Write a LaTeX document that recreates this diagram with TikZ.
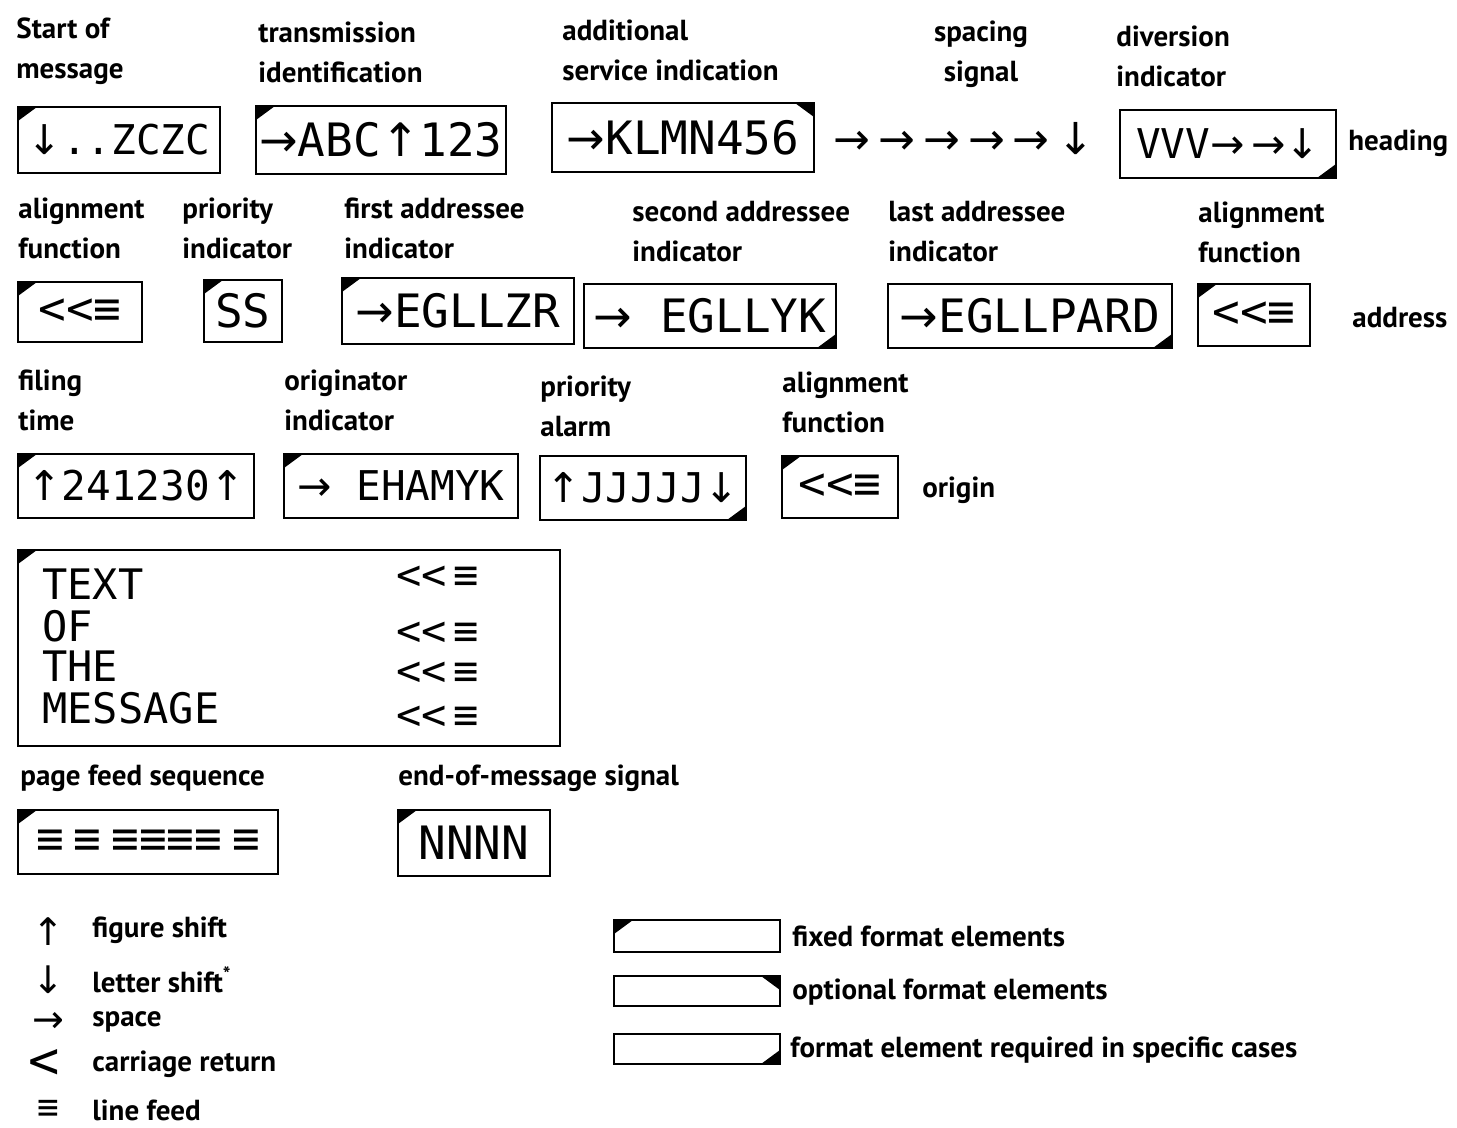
\documentclass[tikz,border=0pt]{standalone}
\usepackage{fontspec}
\setmainfont{PT Sans}
\newfontfamily\mono{DejaVu Sans Mono}
\newfontfamily\arrfont{DejaVu Sans}
\newcommand\RA{{\arrfont →}}
\newcommand\UA{{\arrfont ↑}}
\newcommand\DA{{\arrfont ↓}}
\begin{document}
\begin{tikzpicture}[x=0.5pt,y=-0.5pt,
  lab/.style={font=\fontsize{14.5}{20}\selectfont\bfseries, align=left, anchor=west, inner sep=0pt},
  elem/.style={draw, line width=1.4pt, rectangle, inner sep=0pt, font=\mono\fontsize{23}{24}\selectfont},
  small/.style={font=\mono\fontsize{20.5}{24}\selectfont},
  fixedbox/.style={elem, path picture={\fill (path picture bounding box.north west) -- ++(9.5pt,0pt) -- ++(-9.5pt,-7pt) -- cycle;}},
  optbox/.style={elem, path picture={\fill (path picture bounding box.north east) -- ++(-9.5pt,0pt) -- ++(9.5pt,-7pt) -- cycle;}},
  specbox/.style={elem, path picture={\fill (path picture bounding box.south east) -- ++(-9.5pt,0pt) -- ++(9.5pt,7pt) -- cycle;}},
  monotxt/.style={inner sep=0pt, font=\mono\fontsize{21}{22}\selectfont},
  sym/.style={inner sep=0pt, font=\arrfont\fontsize{19}{19}\selectfont}
]
\useasboundingbox[fill=white] (0,0) rectangle (1457,1128);

% ---------- heading ----------
\node[lab] (l1) at (16,51) {Start of\\message};
\node[lab] (l2) at (258,52) {transmission\\identification};
\node[lab] (l3) at (562,50) {additional\\service indication};
\node[lab, align=center, anchor=center] (l4) at (981,54) {spacing\\signal};
\node[lab] (l5) at (1116,56) {diversion\\indicator};

\node[fixedbox, small, minimum width=101pt, minimum height=33pt] (b1) at (119,140) {\DA..ZCZC};
\node[fixedbox, minimum width=125pt, minimum height=34pt] (b2) at (381,140) {\RA ABC\UA 123};
\node[optbox, minimum width=131pt, minimum height=34.5pt] (b3) at (683,137.5) {\RA KLMN456};
\node[inner sep=0pt, font=\arrfont\fontsize{22}{24}\selectfont] (sp) at (964,139) {→\hspace{4pt}→\hspace{4pt}→\hspace{4pt}→\hspace{4pt}→\hspace{4pt}↓};
\node[specbox, small, minimum width=108pt, minimum height=34pt] (b4) at (1228,144) {VVV\RA\,\RA\DA};
\node[lab] (hd) at (1348,143) {heading};

% ---------- address ----------
\node[lab] (m1) at (18,228) {alignment\\function};
\node[lab] (m2) at (182,228) {priority\\indicator};
\node[lab] (m3) at (344,228) {first addressee\\indicator};
\node[lab] (m4) at (632,232) {second addressee\\indicator};
\node[lab] (m5) at (888,232) {last addressee\\indicator};
\node[lab] (m6) at (1198,232) {alignment\\function};

\node[fixedbox, minimum width=62pt, minimum height=30pt] (a1) at (80,312) {<<≡};
\node[fixedbox, minimum width=39pt, minimum height=31pt] (a2) at (243,311) {SS};
\node[fixedbox, minimum width=116pt, minimum height=33pt] (a3) at (458,311) {\RA EGLLZR};
\node[specbox, minimum width=126pt, minimum height=32pt] (a4) at (710,316) {\RA\ EGLLYK};
\node[specbox, minimum width=142pt, minimum height=32pt] (a5) at (1030,316) {\RA EGLLPARD};
\node[fixedbox, minimum width=56pt, minimum height=31pt] (a6) at (1254,315) {<<≡};
\node[lab] (ad) at (1352,318) {address};

% ---------- origin ----------
\node[lab] (n1) at (18,400) {filing\\time};
\node[lab] (n2) at (284,400) {originator\\indicator};
\node[lab] (n3) at (540,406) {priority\\alarm};
\node[lab] (n4) at (782,402) {alignment\\function};

\node[fixedbox, small, minimum width=118pt, minimum height=32pt] (o1) at (136,486) {\UA 241230\UA};
\node[fixedbox, small, minimum width=117pt, minimum height=32pt] (o2) at (401,486) {\RA\ EHAMYK};
\node[specbox, small, minimum width=103pt, minimum height=32pt] (o3) at (643,488) {\UA JJJJJ\DA};
\node[fixedbox, minimum width=58pt, minimum height=31pt] (o4) at (840,487) {<<≡};
\node[lab] (or) at (922,490) {origin};

% ---------- text ----------
\node[fixedbox, minimum width=271pt, minimum height=98pt] (tx) at (289,648) {};
\node[monotxt, anchor=west] (t1) at (42,584) {TEXT};
\node[monotxt, anchor=west] (t2) at (42,626) {OF};
\node[monotxt, anchor=west] (t3) at (42,666) {THE};
\node[monotxt, anchor=west] (t4) at (42,708) {MESSAGE};
\node[monotxt, anchor=west] (r1) at (396,578) {<<\,≡};
\node[monotxt, anchor=west] (r2) at (396,634) {<<\,≡};
\node[monotxt, anchor=west] (r3) at (396,674) {<<\,≡};
\node[monotxt, anchor=west] (r4) at (396,718) {<<\,≡};

% ---------- end ----------
\node[lab] (q1) at (20,778) {page feed sequence};
\node[lab] (q2) at (398,778) {end-of-message signal};
\node[fixedbox, minimum width=130pt, minimum height=32pt] (p1) at (148,842) {≡\hspace{5pt}≡\hspace{5pt}≡≡≡≡\hspace{5pt}≡};
\node[fixedbox, minimum width=76pt, minimum height=33pt] (p2) at (474,843) {NNNN};

% ---------- legend ----------
\node[sym] (s1) at (48,932) {↑};
\node[sym] (s2) at (48,980) {↓};
\node[sym] (s3) at (48,1022) {→};
\node[sym, font=\mono\fontsize{26}{26}\selectfont] (s4) at (44,1064) {<};
\node[sym, font=\mono\fontsize{18}{18}\selectfont] (s5) at (48,1110) {≡};
\node[lab] (g1) at (92,930) {figure shift};
\node[lab] (g2) at (92,980) {letter shift\textsuperscript{*}};
\node[lab] (g3) at (92,1022) {space};
\node[lab] (g4) at (92,1064) {carriage return};
\node[lab] (g5) at (92,1110) {line feed};

\node[fixedbox, minimum width=83pt, minimum height=16pt] (k1) at (697,936) {};
\node[optbox, minimum width=83pt, minimum height=15pt] (k2) at (697,991) {};
\node[specbox, minimum width=83pt, minimum height=15pt] (k3) at (697,1049) {};
\node[lab] (kl1) at (792,936) {fixed format elements};
\node[lab] (kl2) at (792,992) {optional format elements};
\node[lab] (kl3) at (790,1050) {format element required in specific cases};
\end{tikzpicture}
\end{document}
